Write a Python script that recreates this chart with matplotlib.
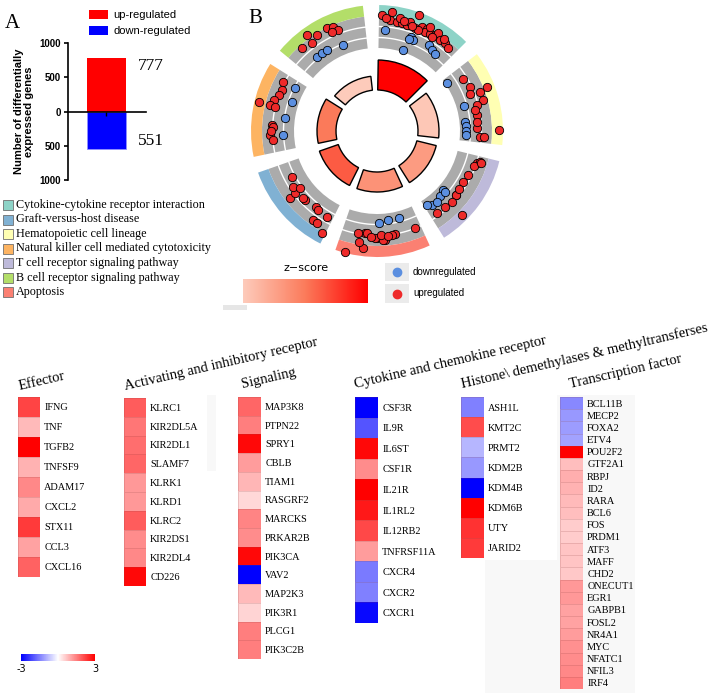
import numpy as np
import matplotlib
matplotlib.use('Agg')
import matplotlib.pyplot as plt
from matplotlib.colors import LinearSegmentedColormap, Normalize
from matplotlib.patches import Rectangle
import matplotlib.cm as cm

W, H = 720, 693
SERIF = 'Liberation Serif'
SANS = 'Liberation Sans'

# ---- panel A data
up_count = 777
down_count = 551

# ---- pathway legend
pathways = ['Cytokine-cytokine receptor interaction', 'Graft-versus-host disease',
            'Hematopoietic cell lineage', 'Natural killer cell mediated cytotoxicity',
            'T cell receptor signaling pathway', 'B cell receptor signaling pathway',
            'Apoptosis']
pathway_colors = ['#8dd3c7', '#80b1d3', '#ffffb3', '#fdb462', '#bebada', '#b3de69', '#fb8072']

# ---- GOCircle data, sectors clockwise from top
circle_terms = ['Cytokine-cytokine receptor interaction', 'Hematopoietic cell lineage',
                'T cell receptor signaling pathway', 'Apoptosis', 'Graft-versus-host disease',
                'Natural killer cell mediated cytotoxicity', 'B cell receptor signaling pathway']
term_zscore = [5.0, 1.1, 2.2, 2.4, 3.5, 3.0, 1.0]
term_count = [30, 21, 20, 20, 20, 19, 14]

# [angle (deg), logFC] of the genes in each term
cytokine_up = [[2.3, 2.7], [7, 3.3], [6.7, 2.0], [10.2, 1.8], [12.9, 1.75], [15.6, 1.7],
               [16.8, 2.3], [20, 3.9], [20.3, 1.6], [23.2, 2.25], [25.8, 2.3], [25.8, 1.7],
               [28.5, 1.8], [31, 2.0], [32, 2.5], [34.7, 1.8], [37.8, 1.8], [40.8, 1.5],
               [11.5, 2.5], [22.2, 1.5], [4.5, 2.2], [14, 2.2], [18.5, 1.8], [27, 2.7],
               [36, 2.2], [30, 1.5]]
cytokine_down = [[4.5, 0.2], [18, -2.5], [20, 0.0], [21.7, -0.3], [31, 0.0], [34, -0.4],
                 [37, -0.5], [19, -0.5]]
hemato_up = [[59, 0], [64.8, 0.5], [68, 0], [69, 1.7], [68.3, 3.0], [73.7, 1.7], [75.5, 0.6],
             [81, 0.2], [88.5, 0], [93.5, 0.5], [93.4, 1.2], [89.5, 3.7], [78, 0.0], [85, 0.0]]
hemato_down = [[55.5, -2.45], [74, -1.6], [84, -1.9], [87, -1.8], [90, -1.8], [92.6, -1.8]]
tcell_up = [[108, 0.8], [106.6, 1.25], [110, 0.45], [115.7, 0.2], [120.4, 0], [129, 0.2],
            [128.8, 0.3], [133.4, 0.5], [138, 0.3], [144, 0.3], [134.8, 3.2], [107, 1.5],
            [125, 0.1]]
tcell_down = [[131.7, -1.9], [136, -1.5], [143.5, -1.3], [139.8, -1.25], [131.8, -1.5],
              [146, -1.7]]
apoptosis_up = [[158.7, 0.75], [170, 0.7], [172, 0.8], [175.8, 1.5], [180, 1.2], [186.7, 3.0],
                [186.7, 0.5], [190.4, 0.7], [185.8, 0.5], [189, 2.0], [194.8, 4.2], [181, 1.2],
                [176.7, 1.5], [183, 1.0], [178, 0.7], [174, 1.0]]
apoptosis_down = [[178.6, -1.3], [172.8, -1.7], [166, -1.7]]
graft_up = [[232.3, 1.7], [232.8, 0.5], [236.4, 0.1], [233.3, -0.7], [226, 0], [219, -0.4],
            [216.6, -0.3], [215.6, 1.6], [213.3, 1.6], [210.4, -0.1], [208.4, 2.7],
            [241.8, -0.5], [227.6, 0]]
graft_down = []
nk_up = [[284, 3.6], [297.8, 1.0], [293.3, 0.6], [290, 0.8], [286.6, 1.3], [283.7, 1.7],
         [283.4, 0.8], [273, 0.9], [272.4, 0.6], [267.9, 1.2], [265, 0.7], [270, 1.0]]
nk_down = [[297.5, -1.25], [289, -1.6], [277.9, -1.2], [267.6, -1.0]]
bcell_up = [[323.8, 3.2], [317.7, 2.0], [323.3, 1.55], [327.9, 2.2], [333.9, 2.4],
            [337.3, 2.2], [339, 1.3], [335.5, 1.5]]
bcell_down = [[320.9, -0.7], [324.6, -0.8], [328.2, -0.8], [338.6, -1.3]]

up_genes = [cytokine_up, hemato_up, tcell_up, apoptosis_up, graft_up, nk_up, bcell_up]
down_genes = [cytokine_down, hemato_down, tcell_down, apoptosis_down, graft_down, nk_down, bcell_down]

# ---- heatmaps
effector = ['IFNG', 'TNF', 'TGFB2', 'TNFSF9', 'ADAM17', 'CXCL2', 'STX11', 'CCL3', 'CXCL16']
effector_fc = [2.2, 0.8, 3.0, 0.9, 1.4, 1.0, 2.3, 1.1, 1.85]
receptor = ['KLRC1', 'KIR2DL5A', 'KIR2DL1', 'SLAMF7', 'KLRK1', 'KLRD1', 'KLRC2', 'KIR2DS1',
            'KIR2DL4', 'CD226']
receptor_fc = [1.9, 1.6, 1.7, 1.8, 1.2, 1.2, 1.9, 1.35, 1.4, 2.9]
signaling = ['MAP3K8', 'PTPN22', 'SPRY1', 'CBLB', 'TIAM1', 'RASGRF2', 'MARCKS', 'PRKAR2B',
             'PIK3CA', 'VAV2', 'MAP2K3', 'PIK3R1', 'PLCG1', 'PIK3C2B']
signaling_fc = [1.8, 1.5, 2.9, 1.15, 0.85, 0.45, 1.45, 1.35, 2.9, -3.0, 0.8, 0.5, 1.5, 1.5]
chemokine = ['CSF3R', 'IL9R', 'IL6ST', 'CSF1R', 'IL21R', 'IL1RL2', 'IL12RB2', 'TNFRSF11A',
             'CXCR4', 'CXCR2', 'CXCR1']
chemokine_fc = [-3.0, -2.0, 2.9, 1.35, 3.0, 2.7, 2.15, 1.15, -1.55, -1.5, -2.9]
histone = ['ASH1L', 'KMT2C', 'PRMT2', 'KDM2B', 'KDM4B', 'KDM6B', 'UTY', 'JARID2']
histone_fc = [-1.5, 2.1, -0.85, -1.2, -3.0, 3.0, 2.4, 2.3]
tfactor = ['BCL11B', 'MECP2', 'FOXA2', 'ETV4', 'POU2F2', 'GTF2A1', 'RBPJ', 'ID2', 'RARA',
           'BCL6', 'FOS', 'PRDM1', 'ATF3', 'MAFF', 'CHD2', 'ONECUT1', 'EGR1', 'GABPB1',
           'FOSL2', 'NR4A1', 'MYC', 'NFATC1', 'NFIL3', 'IRF4']
tfactor_fc = [-1.4, -1.2, -1.15, -1.1, 3.0, 0.75, 0.95, 0.9, 0.8, 0.75, 0.6, 0.6, 0.7, 0.7,
              0.65, 1.2, 1.2, 1.1, 1.1, 1.15, 1.3, 1.35, 1.4, 1.5]


def px_axes(fig, x, y, w, h, **kw):
    return fig.add_axes([x / W, 1 - (y + h) / H, w / W, h / H], **kw)


fig = plt.figure(figsize=(W / 100, H / 100), dpi=100)

# ---------------- panel A
ax = px_axes(fig, 68, 43, 78, 137)
ax.bar([0.49], [up_count], width=0.5, color='#ff0000')
ax.bar([0.49], [-down_count], width=0.5, color='#0000ff', edgecolor='#9090ff', linewidth=0.6)
ax.set_xlim(0, 1)
ax.set_ylim(-1000, 1000)
ax.spines['top'].set_visible(False)
ax.spines['right'].set_visible(False)
ax.spines['bottom'].set_position(('data', 0))
ax.spines['bottom'].set_linewidth(1.2)
ax.spines['left'].set_linewidth(1.2)
ax.set_xticks([0.49])
ax.set_xticklabels([''])
ax.tick_params(axis='x', length=3, width=1)
ax.set_yticks([-1000, -500, 0, 500, 1000])
ax.set_yticklabels(['1000', '500', '0', '500', '1000'], fontweight='bold', fontsize=7,
                   family=SANS)
ax.tick_params(axis='y', length=3, width=1.2, pad=2)
ax.set_ylabel('Number of differentially\nexpressed genes', fontweight='bold', fontsize=8,
              family=SANS, labelpad=4, linespacing=1.0)
ax.text(0.9, up_count, str(up_count), va='top', ha='left', family=SERIF, fontsize=12.5)
ax.text(0.9, -down_count, str(down_count), va='bottom', ha='left', family=SERIF, fontsize=12.5)

# ---------------- panel B circle
axc = px_axes(fig, 249, 3, 256, 256, projection='polar')
axc.set_theta_zero_location('N')
axc.set_theta_direction(-1)
axc.set_ylim(0, 128)
axc.axis('off')

zcmap = LinearSegmentedColormap.from_list('z', ['#fdcbbb', '#fb7a5a', '#ff0000'])
znorm = Normalize(min(term_zscore), max(term_zscore))

step = 360 / len(circle_terms)
span = np.deg2rad(44)
for i, term in enumerate(circle_terms):
    th0 = np.deg2rad(1 + i * step)
    mid = th0 + span / 2
    col = pathway_colors[pathways.index(term)]
    axc.bar(mid, 32, width=span, bottom=83, color='#ababab', edgecolor='none')
    axc.bar(mid, 11, width=span, bottom=115, color=col, edgecolor='none')
    arc = np.linspace(th0, th0 + span, 60)
    for rr in (93.5, 104.5):
        axc.plot(arc, np.full_like(arc, rr), color='white', lw=1)
    axc.bar(mid, term_count[i], width=span, bottom=41,
            color=zcmap(znorm(term_zscore[i])), edgecolor='black', linewidth=1)
    for pts, c in ((down_genes[i], '#5b8fe0'), (up_genes[i], '#ee2a2a')):
        if len(pts) == 0:
            continue
        p = np.array(pts, dtype=float)
        axc.scatter(np.deg2rad(p[:, 0]), 100 + 6 * p[:, 1], s=36, color=c,
                    edgecolors='black', linewidths=0.6, zorder=3, clip_on=False)

# z-score colorbar
cax = px_axes(fig, 243, 279, 125, 24)
cb = fig.colorbar(cm.ScalarMappable(norm=znorm, cmap=zcmap), cax=cax, orientation='horizontal')
cb.set_ticks([])
cb.outline.set_visible(False)

# ---------------- heatmaps
def heat(x, y, w, h, genes, vals):
    a = px_axes(fig, x, y, w, h)
    a.pcolormesh(np.array(vals)[:, None], cmap='bwr', vmin=-3, vmax=3,
                 edgecolors=(0.55, 0.25, 0.25, 0.18), linewidth=0.5)
    a.set_ylim(len(vals), 0)
    a.set_xticks([])
    a.set_yticks(np.arange(len(vals)) + 0.5)
    a.set_yticklabels(genes, family=SERIF, fontsize=7.4)
    a.yaxis.tick_right()
    a.tick_params(length=0, pad=3)
    for s in a.spines.values():
        s.set_visible(False)
    return a


ov = fig.add_axes([0, 0, 1, 1])
ov.set_xlim(0, W)
ov.set_ylim(H, 0)
ov.axis('off')

# faint background panels
ov.add_patch(Rectangle((207, 395), 9, 76, color='#f8f8f8', lw=0))
ov.add_patch(Rectangle((485, 560), 72, 133, color='#f8f8f8', lw=0))
ov.add_patch(Rectangle((557, 395), 78, 298, color='#f8f8f8', lw=0))
ov.add_patch(Rectangle((223, 305), 24, 5, color='#e6e6e6', lw=0))

heat(18, 397, 22, 180, effector, effector_fc)
heat(124, 398, 22, 188, receptor, receptor_fc)
heat(238, 397, 23, 262, signaling, signaling_fc)
heat(355, 397, 23, 226, chemokine, chemokine_fc)
heat(461, 397, 23, 161, histone, histone_fc)
heat(560, 397, 23, 292, tfactor, tfactor_fc)

# heatmap colour key
kax = px_axes(fig, 21, 654, 74, 7)
kb = fig.colorbar(cm.ScalarMappable(norm=Normalize(-3, 3), cmap='bwr'), cax=kax,
                  orientation='horizontal')
kb.set_ticks([-3, 3])
kb.set_ticklabels(['-3', '3'])
kb.outline.set_visible(False)
kax.tick_params(length=0, labelsize=7, pad=2)

# group headers
headers = [(20, 390, 'Effector'), (125, 390, 'Activating and inhibitory receptor'),
           (242, 388, 'Signaling'), (355, 388, 'Cytokine and chemokine receptor'),
           (462, 388, 'Histone\\ demethylases & methyltransferses'),
           (570, 388, 'Transcription factor')]
for hx, hy, txt in headers:
    ov.text(hx, hy, txt, rotation=13, rotation_mode='anchor', ha='left', va='baseline',
            family=SERIF, fontsize=10.5)

# panel labels
ov.text(5, 28, 'A', family=SERIF, fontsize=15, va='baseline')
ov.text(248, 23, 'B', family=SERIF, fontsize=15, va='baseline')

# panel A legend
ov.add_patch(Rectangle((89, 10), 19, 9, color='#ff0000', lw=0))
ov.add_patch(Rectangle((89, 26), 19, 9, color='#0000ff', lw=0))
ov.text(113, 14.5, 'up-regulated', family=SANS, fontsize=8, va='center')
ov.text(113, 30.5, 'down-regulated', family=SANS, fontsize=8, va='center')

# pathway legend
for i, (name, col) in enumerate(zip(pathways, pathway_colors)):
    yy = 205 + 14.5 * i
    ov.add_patch(Rectangle((3, yy - 5), 10, 10, facecolor=col, edgecolor='#707070', lw=0.6))
    ov.text(16, yy, name, family=SERIF, fontsize=8.7, va='center')

# z-score title and regulation legend
ov.text(306, 268, 'z\u2212score', family='DejaVu Sans', fontsize=8, ha='center', va='center')
for yy, h, c, lab in ((263, 18, '#5b8fe0', 'downregulated'), (284, 19, '#ee2a2a', 'upregulated')):
    ov.add_patch(Rectangle((385, yy), 24, h, color='#ebebeb', lw=0))
    ov.scatter([397], [yy + h / 2], s=36, color=c, zorder=3)
    ov.text(413, yy + h / 2, lab, family=SANS, fontsize=7, va='center')

fig.savefig('out.png', dpi=100)
